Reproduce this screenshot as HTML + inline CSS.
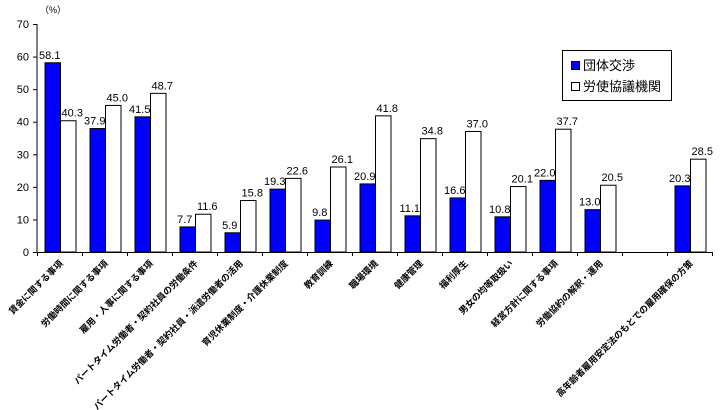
<!DOCTYPE html>
<html><head><meta charset="utf-8">
<style>
html,body{margin:0;padding:0;background:#fff;}
svg{display:block;font-family:"Liberation Sans","Noto Sans CJK JP",sans-serif;}
</style></head>
<body>
<svg id="chart" width="724" height="410" viewBox="0 0 724 410"></svg>
<script>
const categories = ["賃金に関する事項","労働時間に関する事項","雇用・人事に関する事項","パートタイム労働者・契約社員の労働条件","パートタイム労働者・契約社員・派遣労働者の活用","育児休業制度・介護休業制度","教育訓練","職場環境","健康管理","福利厚生","男女の均等取扱い","経営方針に関する事項","労働協約の解釈・運用","","高年齢者雇用安定法のもとでの雇用確保の方策"];
const dantai = [58.1,37.9,41.5,7.7,5.9,19.3,9.8,20.9,11.1,16.6,10.8,22.0,13.0,null,20.3];
const roushi = [40.3,45.0,48.7,11.6,15.8,22.6,26.1,41.8,34.8,37.0,20.1,37.7,20.5,null,28.5];
const yTicks = [0,10,20,30,40,50,60,70];
const seriesNames = ["団体交渉","労使協議機関"];

const NS="http://www.w3.org/2000/svg";
const svg=document.getElementById('chart');
const X0=37,X1=712,Y0=252,Y1=24,YMAX=70;
const gw=(X1-X0)/categories.length, bw=15.5, off=8;
function y(v){return Y0-(v/YMAX)*(Y0-Y1);}
function gx(i){return X0+i*gw;}
function mk(tag,attrs,txt){const e=document.createElementNS(NS,tag);for(const k in attrs)e.setAttribute(k,attrs[k]);if(txt!=null)e.textContent=txt;svg.appendChild(e);return e;}

let e=mk('line',{x1:X0,y1:Y1,x2:X0,y2:Y0,stroke:'#000','stroke-width':1});


yTicks.forEach(t=>{
  let l=mk('line',{x1:X0-4,y1:y(t)+0.5,x2:X0,y2:y(t)+0.5,stroke:'#000'});
  
  
  let tx=mk('text',{x:X0-8,y:y(t)+4,'text-anchor':'end','font-size':11},String(t));
  
  
});
e=mk('text',{x:40,y:13,'font-size':9},'（%）');



categories.forEach((c,i)=>{
  if(dantai[i]!=null){
    let r=mk('rect',{x:gx(i)+off,y:y(dantai[i]),width:bw,height:Y0-y(dantai[i]),fill:'#0000ff',stroke:'#000','stroke-width':1});
    
    
    let t=mk('text',{x:gx(i)+off+bw/2-3,y:y(dantai[i])-4,'text-anchor':'middle','font-size':11},dantai[i].toFixed(1));
    
    
  }
  if(roushi[i]!=null){
    let r=mk('rect',{x:gx(i)+off+bw,y:y(roushi[i]),width:bw,height:Y0-y(roushi[i]),fill:'#fff',stroke:'#000','stroke-width':1});
    
    
    let t=mk('text',{x:gx(i)+off+bw*1.5+4,y:y(roushi[i])-4,'text-anchor':'middle','font-size':11},roushi[i].toFixed(1));
    
    
  }
  let tk=mk('line',{x1:gx(i)+0.5,y1:Y0,x2:gx(i)+0.5,y2:Y0+4,stroke:'#000'});
  
  
  if(c){
    const cx=gx(i)+gw/2+4, cy=Y0+12;
    let t=mk('text',{x:cx,y:cy,'text-anchor':'end','font-size':9,'font-weight':'bold',transform:`rotate(-45 ${cx} ${cy})`},c);
    
    
  }
});
let tk=mk('line',{x1:X1+0.5,y1:Y0,x2:X1+0.5,y2:Y0+4,stroke:'#000'});


e=mk('line',{x1:X0,y1:Y0+0.5,x2:X1,y2:Y0+0.5,stroke:'#000'});



e=mk('rect',{x:562.5,y:50.5,width:109,height:50,fill:'#fff',stroke:'#000'});


e=mk('rect',{x:571.5,y:61.5,width:8,height:8,fill:'#0000ff',stroke:'#000'});


e=mk('text',{x:583,y:70,'font-size':13},seriesNames[0]);


e=mk('rect',{x:571.5,y:82.5,width:8,height:8,fill:'#fff',stroke:'#000'});


e=mk('text',{x:583,y:91,'font-size':13},seriesNames[1]);


</script>
</body></html>
